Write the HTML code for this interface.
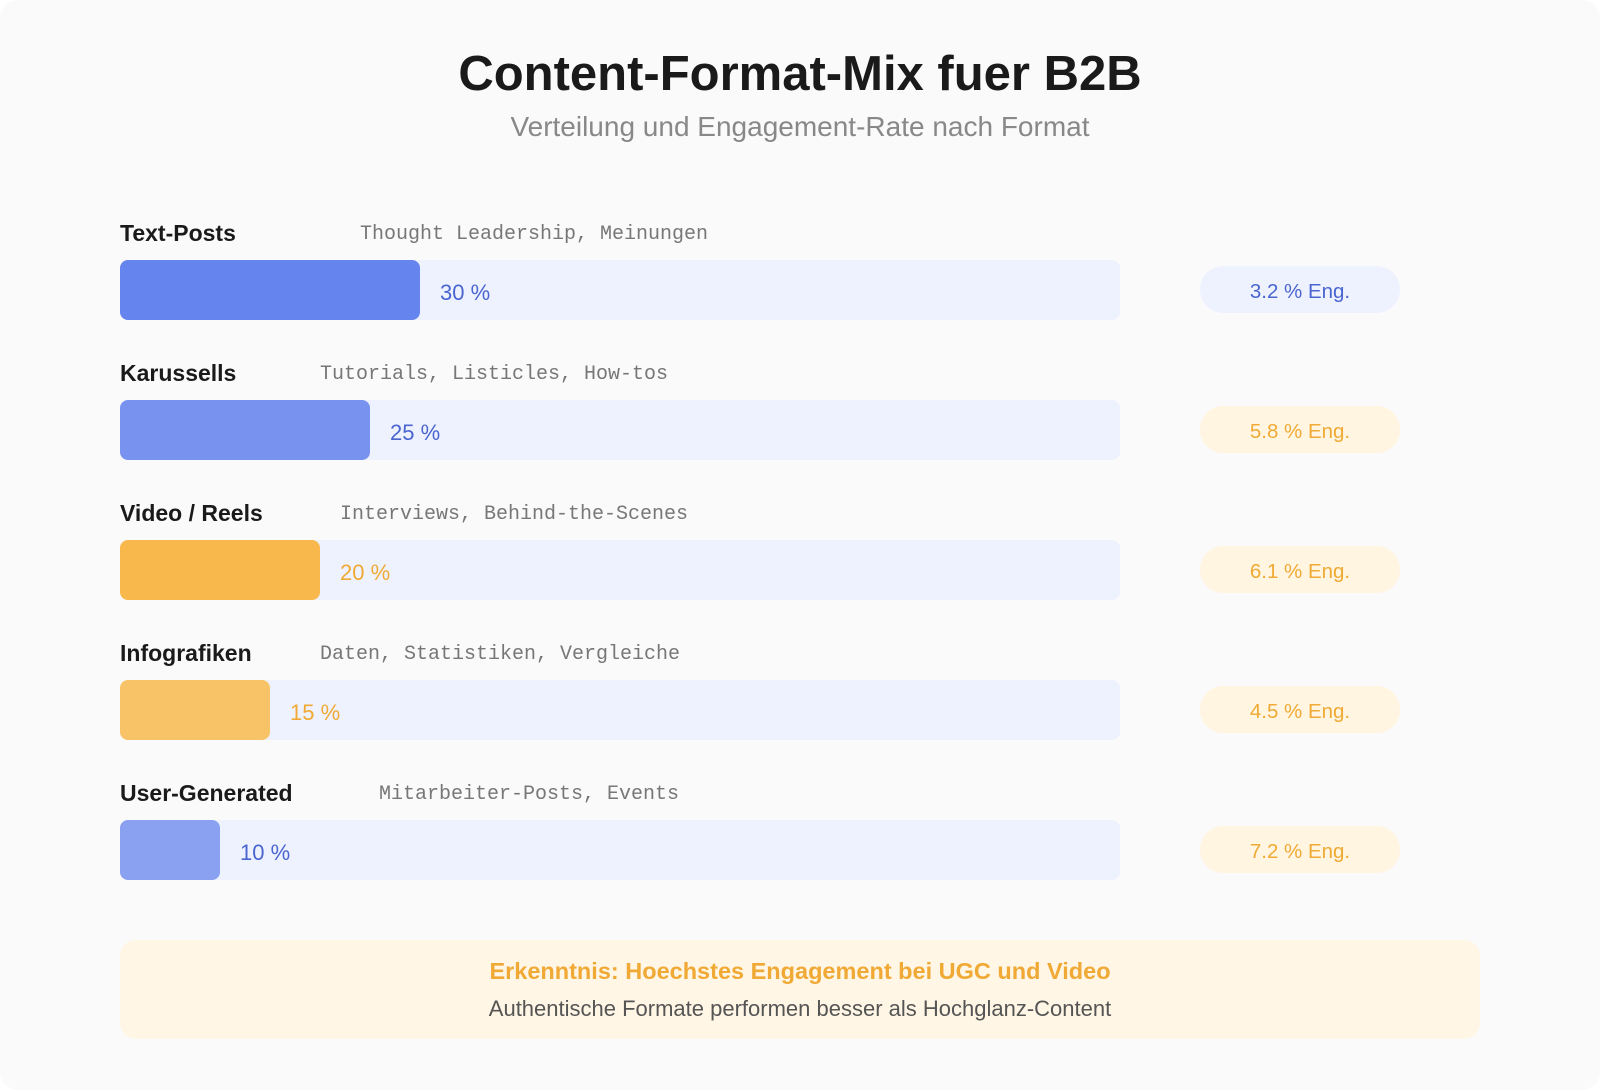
<!DOCTYPE html>
<html><head><meta charset="utf-8"><style>
html,body{margin:0;padding:0;background:#fff;}
.card{position:relative;width:1600px;height:1090px;background:#fafafa;border-radius:18px;overflow:hidden;font-family:"Liberation Sans",Arial,sans-serif;}
.t{position:absolute;white-space:nowrap;}
.title{left:0;width:1600px;text-align:center;top:46px;font-size:49px;font-weight:700;color:#1a1a1a;}
.sub{left:0;width:1600px;text-align:center;top:111px;font-size:28px;color:#888;}
.lab{font-size:23px;font-weight:600;color:#1a1a1a;left:120px;}
.desc{font-family:"Liberation Mono",monospace;font-size:20px;color:#777;}
.track{position:absolute;left:120px;width:1000px;height:60px;background:#eef2fe;border-radius:8px;}
.fill{position:absolute;left:0;top:0;height:60px;border-radius:8px;}
.pct{position:absolute;top:3px;line-height:60px;font-size:22px;font-weight:500;}
.pill{position:absolute;left:1200px;width:200px;height:47px;border-radius:24px;text-align:center;line-height:51px;font-size:20.5px;font-weight:500;}
.blue{color:#4a65d0}.org{color:#f0a935}
.pb{background:#eef2fe;color:#4a65d0}.po{background:#fff5e0;color:#f0aa35}
.box{position:absolute;left:120px;top:940px;width:1360px;height:99px;background:#fff6e5;border-radius:16px;}
</style></head><body><div class="card">
<div class="t title">Content-Format-Mix fuer B2B</div>
<div class="t sub">Verteilung und Engagement-Rate nach Format</div>

<div class="t lab" style="top:220px">Text-Posts</div>
<div class="t desc" style="left:360px;top:223px">Thought Leadership, Meinungen</div>
<div class="track" style="top:260px"><div class="fill" style="width:300px;background:#6584ee"></div><div class="pct blue" style="left:320px">30 %</div></div>
<div class="pill pb" style="top:266px">3.2 % Eng.</div>

<div class="t lab" style="top:360px">Karussells</div>
<div class="t desc" style="left:320px;top:363px">Tutorials, Listicles, How-tos</div>
<div class="track" style="top:400px"><div class="fill" style="width:250px;background:#7892f0"></div><div class="pct blue" style="left:270px">25 %</div></div>
<div class="pill po" style="top:406px">5.8 % Eng.</div>

<div class="t lab" style="top:500px">Video / Reels</div>
<div class="t desc" style="left:340px;top:503px">Interviews, Behind-the-Scenes</div>
<div class="track" style="top:540px"><div class="fill" style="width:200px;background:#f8b84c"></div><div class="pct org" style="left:220px">20 %</div></div>
<div class="pill po" style="top:546px">6.1 % Eng.</div>

<div class="t lab" style="top:640px">Infografiken</div>
<div class="t desc" style="left:320px;top:643px">Daten, Statistiken, Vergleiche</div>
<div class="track" style="top:680px"><div class="fill" style="width:150px;background:#f8c366"></div><div class="pct org" style="left:170px">15 %</div></div>
<div class="pill po" style="top:686px">4.5 % Eng.</div>

<div class="t lab" style="top:780px">User-Generated</div>
<div class="t desc" style="left:379px;top:783px">Mitarbeiter-Posts, Events</div>
<div class="track" style="top:820px"><div class="fill" style="width:100px;background:#8aa0f1"></div><div class="pct blue" style="left:120px">10 %</div></div>
<div class="pill po" style="top:826px">7.2 % Eng.</div>

<div class="box">
<div class="t" style="left:0;width:1360px;text-align:center;top:18px;font-size:23.5px;font-weight:600;color:#f0a935">Erkenntnis: Hoechstes Engagement bei UGC und Video</div>
<div class="t" style="left:0;width:1360px;text-align:center;top:56px;font-size:22px;color:#555">Authentische Formate performen besser als Hochglanz-Content</div>
</div>
</div></body></html>
